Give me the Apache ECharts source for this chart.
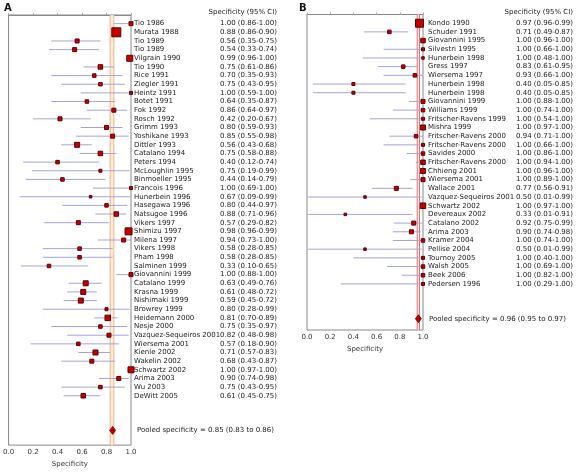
<!DOCTYPE html>
<html><head><meta charset="utf-8">
<script src="https://cdn.jsdelivr.net/npm/echarts@6/dist/echarts.min.js"></script>
<style>html,body{margin:0;padding:0;background:#fff}#c{width:577px;height:473px}</style>
</head><body><div id="c"></div>
<script>
// ---------- Panel A data ----------
const studiesA = ["Tio 1986","Murata 1988","Tio 1989","Tio 1989","Vilgrain 1990","Tio 1990","Rice 1991","Ziegler 1991","Heintz 1991","Botet 1991","Fok 1992","Rosch 1992","Grimm 1993","Yoshikane 1993","Dittler 1993","Catalano 1994","Peters 1994","McLoughlin 1995","Binmoeller 1995","Francois 1996","Hunerbein 1996","Hasegawa 1996","Natsugoe 1996","Vikers 1997","Shimizu 1997","Milena 1997","Vikers 1998","Pham 1998","Salminen 1999","Giovannini 1999","Catalano 1999","Krasna 1999","Nishimaki 1999","Browrey 1999","Heidemann 2000","Nesje 2000","Vazquez-Sequeiros 2001","Wiersema 2001","Kienle 2002","Wakelin 2002","Schwartz 2002","Arima 2003","Wu 2003","DeWitt 2005"];
const specA = [1.00,0.88,0.56,0.54,0.99,0.75,0.70,0.75,1.00,0.64,0.86,0.42,0.80,0.85,0.56,0.75,0.40,0.75,0.44,1.00,0.67,0.80,0.88,0.57,0.98,0.94,0.58,0.58,0.33,1.00,0.63,0.61,0.59,0.80,0.81,0.75,0.82,0.57,0.71,0.68,1.00,0.90,0.75,0.61];
const lowA  = [0.86,0.86,0.35,0.33,0.96,0.61,0.35,0.43,0.59,0.35,0.64,0.20,0.59,0.55,0.43,0.58,0.12,0.19,0.14,0.69,0.09,0.44,0.71,0.29,0.96,0.73,0.28,0.28,0.10,0.88,0.49,0.48,0.45,0.28,0.70,0.35,0.48,0.18,0.57,0.43,0.97,0.74,0.43,0.45];
const highA = [1.00,0.90,0.75,0.74,1.00,0.86,0.93,0.95,1.00,0.87,0.97,0.67,0.93,0.98,0.68,0.88,0.74,0.99,0.79,1.00,0.99,0.97,0.96,0.82,0.99,1.00,0.85,0.85,0.65,1.00,0.76,0.72,0.72,0.99,0.89,0.97,0.98,0.90,0.83,0.87,1.00,0.98,0.95,0.75];
const weightA = [4,9,4,4,6,4.5,3.5,3.5,3,3.5,4,4,4,4,5,4.5,3.5,3,3.5,3,2.5,3.5,4.5,4,7,4,3.5,3.5,3.5,4,5,5,5,3,5.5,3.5,4,3.5,5,4,6,4,3.5,4.5];
const pooledA = [0.85, 0.83, 0.86];

// ---------- Panel B data ----------
const studiesB = ["Kondo 1990","Schuder 1991","Giovannini 1995","Silvestri 1995","Hunerbein 1998","Gress 1997","Wiersema 1997","Hunerbein 1998","Hunerbein 1998","Giovannini 1999","Williams 1999","Fritscher-Ravens 1999","Mishra 1999","Fritscher-Ravens 2000","Fritscher-Ravens 2000","Savides 2000","Fritscher-Ravens 2000","Chhieng 2001","Wiersema 2001","Wallace 2001","Vazquez-Sequeiros 2001","Schwartz 2002","Devereaux 2002","Catalano 2002","Arima 2003","Kramer 2004","Pellise 2004","Tournoy 2005","Walsh 2005","Beek 2006","Pedersen 1996"];
const specB = [0.97,0.71,1.00,1.00,1.00,0.83,0.93,0.40,0.40,1.00,1.00,1.00,1.00,0.94,1.00,1.00,1.00,1.00,1.00,0.77,0.50,1.00,0.33,0.92,0.90,1.00,0.50,1.00,1.00,1.00,1.00];
const lowB  = [0.96,0.49,0.96,0.66,0.48,0.61,0.66,0.05,0.05,0.88,0.74,0.54,0.97,0.71,0.66,0.86,0.94,0.96,0.89,0.56,0.01,0.97,0.01,0.75,0.74,0.74,0.01,0.40,0.69,0.82,0.29];
const highB = [0.99,0.87,1.00,1.00,1.00,0.95,1.00,0.85,0.85,1.00,1.00,1.00,1.00,1.00,1.00,1.00,1.00,1.00,1.00,0.91,0.99,1.00,0.91,0.99,0.98,1.00,0.99,1.00,1.00,1.00,1.00];
const weightB = [8,3.5,4.5,3,2.5,3.5,3.5,3,3,4,3.5,3,5,3.5,3,3.5,4.5,5,4,4,2.5,5.5,2.5,4,4,3.5,2.5,3,3.5,3.5,3];
const pooledB = [0.96, 0.95, 0.97];

const xTicks = [0, 0.2, 0.4, 0.6, 0.8, 1.0];

const FONT = '7px "DejaVu Sans", Verdana, sans-serif';
const fmt = v => v.toFixed(2);

function panel(gi, names, est, lo, hi, wt, pooled, cfg) {
  const n = names.length;
  const data = names.map((_, i) => [est[i], lo[i], hi[i], i + 1]);
  const pooledRow = n + 4;
  return [
    { // pooled CI band
      type: 'custom', xAxisIndex: gi, yAxisIndex: gi, silent: true, z: 1,
      data: [[pooled[1], pooled[2]]],
      encode: { x: [0, 1] },
      renderItem: (params, api) => {
        const cs = params.coordSys;
        const x1 = api.coord([pooled[1], 0])[0], x2 = api.coord([pooled[2], 0])[0];
        return { type: 'group', children: [
          { type: 'rect', shape: { x: x1, y: cs.y, width: x2 - x1, height: cs.height }, style: { fill: cfg.bandFill } },
          { type: 'line', shape: { x1: x1, y1: cs.y, x2: x1, y2: cs.y + cs.height }, style: { stroke: cfg.bandLine, lineWidth: 1 } },
          { type: 'line', shape: { x1: x2, y1: cs.y, x2: x2, y2: cs.y + cs.height }, style: { stroke: cfg.bandLine, lineWidth: 1 } }
        ]};
      }
    },
    { // studies
      type: 'custom', xAxisIndex: gi, yAxisIndex: gi, z: 3, clip: false,
      data: data,
      encode: { x: [0, 1, 2], y: 3 },
      renderItem: (params, api) => {
        const i = params.dataIndex;
        const row = api.value(3);
        const pE = api.coord([api.value(0), row]);
        const pL = api.coord([api.value(1), row]);
        const pH = api.coord([api.value(2), row]);
        const pR = api.coord([1, row]);
        const s = wt[i];
        return { type: 'group', children: [
          { type: 'line', shape: { x1: pL[0], y1: pE[1], x2: pH[0], y2: pE[1] }, style: { stroke: '#a4a4d8', lineWidth: 1 } },
          { type: 'rect', shape: { x: pE[0] - s / 2, y: pE[1] - s / 2, width: s, height: s }, style: { fill: '#c40000', stroke: '#5c0000', lineWidth: 1 } },
          { type: 'text', x: pR[0] + cfg.nameOff, y: pE[1], style: { text: names[i], font: FONT, fill: '#222', align: 'left', verticalAlign: 'middle' } },
          { type: 'text', x: pR[0] + cfg.valOff, y: pE[1], style: { text: fmt(est[i]) + ' (' + fmt(lo[i]) + '-' + fmt(hi[i]) + ')', font: FONT, fill: '#222', align: 'right', verticalAlign: 'middle' } }
        ]};
      }
    },
    { // pooled diamond + text + header
      type: 'custom', xAxisIndex: gi, yAxisIndex: gi, z: 4, clip: false,
      data: [[pooled[0], pooled[1], pooled[2], pooledRow]],
      encode: { x: [0, 1, 2], y: 3 },
      renderItem: (params, api) => {
        const row = api.value(3);
        const pE = api.coord([api.value(0), row]);
        const pL = api.coord([api.value(1), row]);
        const pH = api.coord([api.value(2), row]);
        const pR = api.coord([1, row]);
        const cs = params.coordSys;
        const l = Math.min(pL[0], pE[0] - 3), r = Math.max(pH[0], pE[0] + 3);
        return { type: 'group', children: [
          { type: 'polygon', shape: { points: [[l, pE[1]], [pE[0], pE[1] - 4], [r, pE[1]], [pE[0], pE[1] + 4]] }, style: { fill: '#b00000', stroke: '#7a0000', lineWidth: 0.8 } },
          { type: 'text', x: pR[0] + cfg.poolOff, y: pE[1], style: { text: 'Pooled specificity = ' + pooled[0].toFixed(2) + ' (' + pooled[1].toFixed(2) + ' to ' + pooled[2].toFixed(2) + ')', font: FONT, fill: '#222', align: 'left', verticalAlign: 'middle' } },
          { type: 'text', x: cs.x + cs.width + cfg.valOff, y: 12, style: { text: 'Specificity (95% CI)', font: FONT, fill: '#222', align: 'right', verticalAlign: 'middle' } }
        ]};
      }
    }
  ];
}

const xAxisBase = gi => ({
  type: 'value', gridIndex: gi, min: 0, max: 1, interval: 0.2,
  axisLine: { show: true, lineStyle: { color: '#888', width: 1 } },
  axisTick: { show: true, inside: true, length: 2, lineStyle: { color: '#aaa' } },
  splitLine: { show: false },
  axisLabel: { formatter: v => xTicks.includes(Math.round(v * 10) / 10) ? v.toFixed(1) : '', color: '#333', fontSize: 7, fontFamily: '"DejaVu Sans", Verdana, sans-serif', margin: 4 },
  name: 'Specificity', nameLocation: 'middle', nameGap: 15,
  nameTextStyle: { color: '#333', fontSize: 7, fontFamily: '"DejaVu Sans", Verdana, sans-serif' }
});

const chart = echarts.init(document.getElementById('c'), null, { renderer: 'canvas' });
chart.setOption({
  animation: false,
  backgroundColor: '#fff',
  grid: [
    { left: 7, top: 15, width: 124, height: 433, show: true, borderColor: '#888', borderWidth: 1, backgroundColor: 'transparent' },
    { left: 307, top: 14.5, width: 116, height: 315.5, show: true, borderColor: '#888', borderWidth: 1, backgroundColor: 'transparent' }
  ],
  xAxis: [xAxisBase(0), xAxisBase(1)],
  yAxis: [
    { type: 'value', gridIndex: 0, inverse: true, min: 0, max: 49.7, show: false },
    { type: 'value', gridIndex: 1, inverse: true, min: 0, max: 36.3, show: false }
  ],
  graphic: [
    { type: 'text', left: 4, top: 3, style: { text: 'A', font: 'bold 10px "DejaVu Sans", Verdana, sans-serif', fill: '#111' } },
    { type: 'text', left: 299, top: 3, style: { text: 'B', font: 'bold 10px "DejaVu Sans", Verdana, sans-serif', fill: '#111' } }
  ],
  series: [
    ...panel(0, studiesA, specA, lowA, highA, weightA, pooledA,
      { nameOff: 3, valOff: 146, poolOff: 6, bandFill: 'rgba(254,238,222,0.9)', bandLine: '#f0b080' }),
    ...panel(1, studiesB, specB, lowB, highB, weightB, pooledB,
      { nameOff: 5, valOff: 150, poolOff: 6, bandFill: 'rgba(255,232,232,0.8)', bandLine: '#e87070' })
  ]
});
</script></body></html>
